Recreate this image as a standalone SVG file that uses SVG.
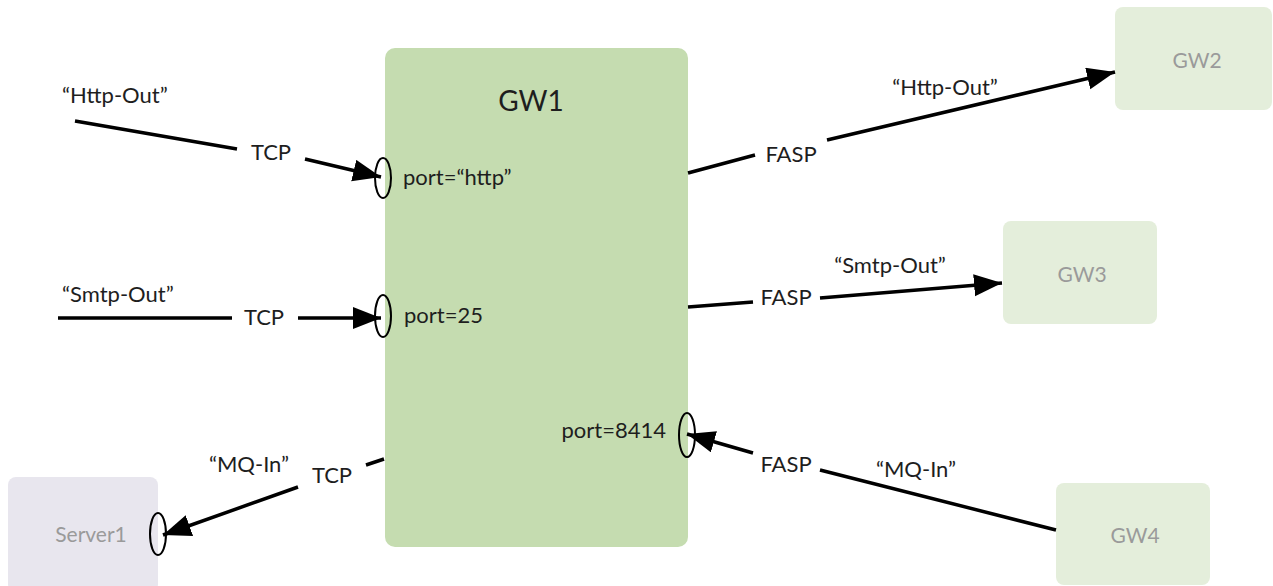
<svg xmlns="http://www.w3.org/2000/svg" width="1273" height="586" viewBox="0 0 1273 586">
<style>
text{font-family:Lato,"Open Sans","Liberation Sans",sans-serif;fill:#1e1e1e}
.lbl{font-size:22px}
.big{font-size:28px}
.ghost{font-size:21px;fill:#9a9a9a}
.edge{fill:none;stroke:#000;stroke-width:3.5}
.port{fill:none;stroke:#000;stroke-width:2}
</style>
<defs>
<marker id="arr" markerUnits="userSpaceOnUse" markerWidth="30" markerHeight="24" refX="28" refY="11" orient="auto">
<path d="M0,0 L28,11 L0,22 z" fill="#000"/>
</marker>
</defs>
<rect width="1273" height="586" fill="#fff"/>
<g id="GW1">
<rect x="385" y="48" width="303" height="499" rx="10" fill="#c5dcb0"/>
<text class="big" x="531" y="111" text-anchor="middle">GW1</text>
<text class="lbl" x="403" y="185">port=“http”</text>
<text class="lbl" x="404" y="323">port=25</text>
<text class="lbl" x="666" y="438" text-anchor="end">port=8414</text>
</g>
<g id="GW2">
<rect x="1115" y="7" width="157" height="103" rx="8" fill="#e4eedb"/>
<text class="ghost" x="1197" y="68" text-anchor="middle">GW2</text>
</g>
<g id="GW3">
<rect x="1003" y="221" width="154" height="103" rx="8" fill="#e4eedb"/>
<text class="ghost" x="1082" y="282" text-anchor="middle">GW3</text>
</g>
<g id="GW4">
<rect x="1056" y="483" width="154" height="102" rx="8" fill="#e4eedb"/>
<text class="ghost" x="1135" y="543" text-anchor="middle">GW4</text>
</g>
<g id="Server1">
<rect x="8" y="477" width="150" height="115" rx="8" fill="#e8e6ee"/>
<text class="ghost" x="91" y="542" text-anchor="middle">Server1</text>
</g>
<g id="connectors">
<path class="edge" d="M75,121 L237,149 M305,159 L381,177" marker-end="url(#arr)"/>
<text class="lbl" x="62" y="103">“Http-Out”</text>
<text class="lbl" x="271" y="160" text-anchor="middle">TCP</text>
<ellipse class="port" cx="383" cy="178" rx="8" ry="20"/>

<path class="edge" d="M58,318 L232,318 M298,318 L381,318" marker-end="url(#arr)"/>
<text class="lbl" x="62" y="302">“Smtp-Out”</text>
<text class="lbl" x="264" y="325" text-anchor="middle">TCP</text>
<ellipse class="port" cx="383" cy="316" rx="8" ry="21"/>

<path class="edge" d="M384,459 L366,465 M298,487 L163,535" marker-end="url(#arr)"/>
<text class="lbl" x="249" y="472" text-anchor="middle">“MQ-In”</text>
<text class="lbl" x="332" y="483" text-anchor="middle">TCP</text>
<ellipse class="port" cx="158" cy="534" rx="8" ry="21"/>

<path class="edge" d="M688,173 L755,155 M827,140 L1115,72" marker-end="url(#arr)"/>
<text class="lbl" x="791" y="162" text-anchor="middle">FASP</text>
<text class="lbl" x="945" y="95" text-anchor="middle">“Http-Out”</text>

<path class="edge" d="M688,307 L753,302 M820,298 L1002,283" marker-end="url(#arr)"/>
<text class="lbl" x="786" y="305" text-anchor="middle">FASP</text>
<text class="lbl" x="890" y="273" text-anchor="middle">“Smtp-Out”</text>

<path class="edge" d="M1056,530 L820,470 M753,453 L687,434" marker-end="url(#arr)"/>
<text class="lbl" x="786" y="472" text-anchor="middle">FASP</text>
<text class="lbl" x="916" y="477" text-anchor="middle">“MQ-In”</text>
<ellipse class="port" cx="687" cy="435" rx="8" ry="22"/>
</g>
</svg>
